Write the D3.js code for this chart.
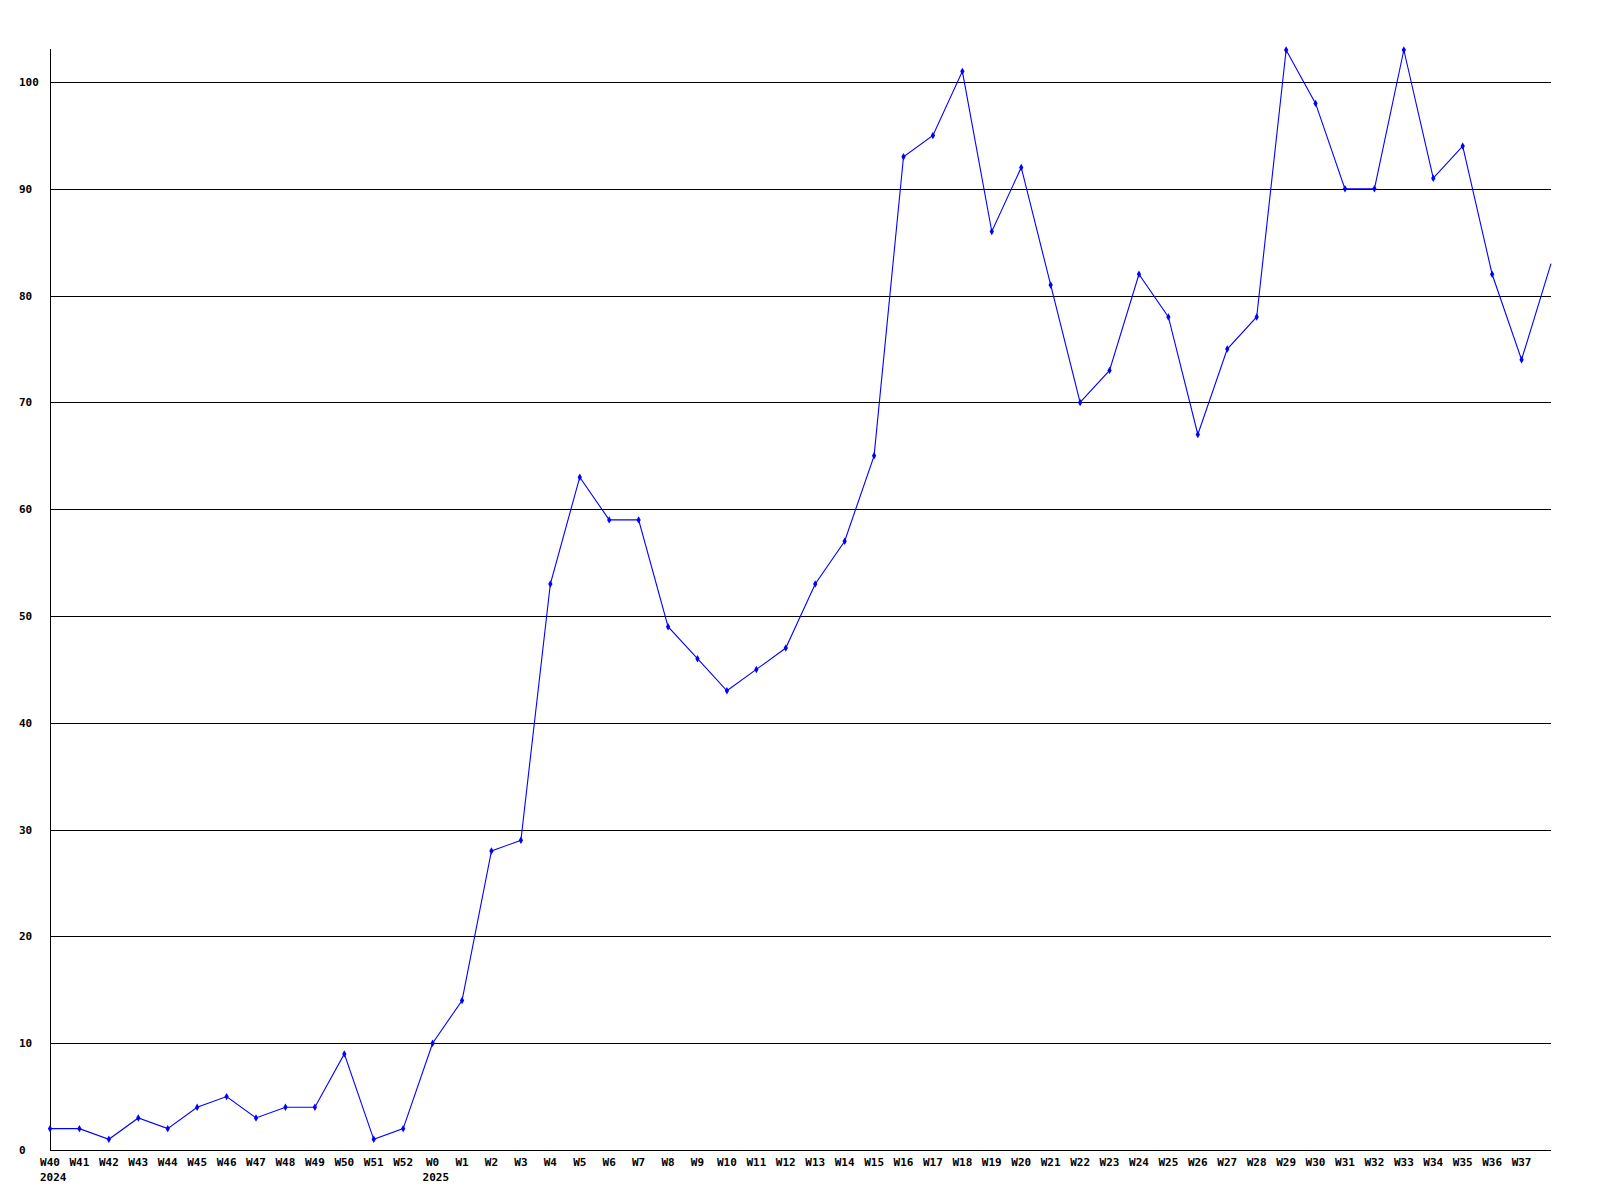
<!DOCTYPE html>
<html>
<head>
<meta charset="utf-8">
<script src="https://cdn.jsdelivr.net/npm/d3@7"></script>
<style>
  body { margin: 0; background: #fff; }
  svg text { font-family: "DejaVu Sans Mono", monospace; font-weight: bold; font-size: 11px; fill: #000; }
</style>
</head>
<body>
<svg id="chart" width="1600" height="1200"></svg>
<script>
// weeks from W40 2024 to W38 2025
var weeks = ["W40","W41","W42","W43","W44","W45","W46","W47","W48","W49","W50","W51","W52",
  "W0","W1","W2","W3","W4","W5","W6","W7","W8","W9","W10","W11","W12","W13","W14","W15","W16",
  "W17","W18","W19","W20","W21","W22","W23","W24","W25","W26","W27","W28","W29","W30","W31",
  "W32","W33","W34","W35","W36","W37","W38"];
var counts = [2,2,1,3,2,4,5,3,4,4,9,1,2,
  10,14,28,29,53,63,59,59,49,46,43,45,47,53,57,65,93,
  95,101,86,92,81,70,73,82,78,67,75,78,103,98,90,
  90,103,91,94,82,74,83];
var yearLabels = [{week: "W40", year: "2024"}, {week: "W0", year: "2025"}];
var yTicks = [0,10,20,30,40,50,60,70,80,90,100];

// plot area ("top" is taken by window.top, so use other names)
var plotLeft = 50, plotRight = 1551, plotTop = 50, plotBottom = 1150;

var svg = d3.select("#chart");

var x = d3.scalePoint().domain(weeks).range([plotLeft, plotRight]);
var y = d3.scaleLinear().domain([0, 103]).range([plotBottom, plotTop]);

// grid lines
svg.append("g").selectAll("line")
  .data(yTicks.filter(d => d > 0))
  .enter().append("line")
  .attr("x1", plotLeft).attr("x2", plotRight)
  .attr("y1", d => Math.round(y(d)) + 0.5).attr("y2", d => Math.round(y(d)) + 0.5)
  .attr("stroke", "#000").attr("stroke-width", 1)
  .attr("shape-rendering", "crispEdges");

// axes
svg.append("line")
  .attr("x1", plotLeft + 0.5).attr("x2", plotLeft + 0.5).attr("y1", plotTop - 1).attr("y2", plotBottom + 0.5)
  .attr("stroke", "#000").attr("shape-rendering", "crispEdges");
svg.append("line")
  .attr("x1", plotLeft).attr("x2", plotRight).attr("y1", plotBottom + 0.5).attr("y2", plotBottom + 0.5)
  .attr("stroke", "#000").attr("shape-rendering", "crispEdges");

// y labels
svg.append("g").selectAll("text")
  .data(yTicks)
  .enter().append("text")
  .attr("x", 19)
  .attr("y", d => Math.round(y(d)) + 4)
  .text(d => d);

// x labels (last week has no label)
svg.append("g").selectAll("text")
  .data(weeks.slice(0, weeks.length - 1))
  .enter().append("text")
  .attr("x", d => x(d))
  .attr("y", 1166)
  .attr("text-anchor", "middle")
  .text(d => d);

svg.append("g").selectAll("text")
  .data(yearLabels)
  .enter().append("text")
  .attr("x", d => x(d.week) - 10)
  .attr("y", 1181)
  .text(d => d.year);

// line
var line = d3.line()
  .x((d, i) => x(weeks[i]))
  .y(d => y(d));

svg.append("path")
  .datum(counts)
  .attr("d", line)
  .attr("fill", "none")
  .attr("stroke", "#0000ff")
  .attr("stroke-width", 1.1);

// markers
svg.append("g").selectAll("path")
  .data(counts.slice(0, counts.length - 1))
  .enter().append("path")
  .attr("transform", (d, i) => "translate(" + x(weeks[i]) + "," + y(d) + ")")
  .attr("d", d3.symbol().type(d3.symbolDiamond).size(16))
  .attr("fill", "#0000ff");
</script>
</body>
</html>
